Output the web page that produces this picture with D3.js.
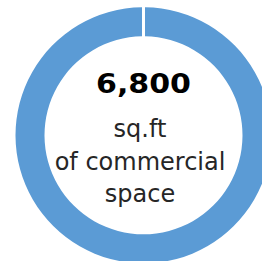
<!DOCTYPE html>
<html>
<head>
<meta charset="utf-8">
<script src="https://cdn.jsdelivr.net/npm/d3@7"></script>
<style>
html,body{margin:0;padding:0;background:#fff;overflow:hidden;}
svg{display:block;}
</style>
</head>
<body>
<script>
const categories = ["Commercial space"];
const values = [6800];
const headline = ["6,800"];
const captionLines = ["sq.ft", "of commercial", "space"];

const W = 262, H = 261;
const cx = 143.5, cy = 135.3, outerR = 128, innerR = 99;

const svg = d3.select("body").append("svg").attr("width", W).attr("height", H);
const g = svg.append("g").attr("transform", `translate(${cx},${cy})`);

const pie = d3.pie().sort(null).startAngle(0).endAngle(2 * Math.PI - 1e-6).padAngle(0.0185);
const arc = d3.arc().innerRadius(innerR).outerRadius(outerR);

g.selectAll("path.slice")
  .data(pie(values))
  .join("path")
  .attr("class", "slice")
  .attr("d", arc)
  .attr("fill", "#5B9BD5");

svg.append("text")
  .data(headline)
  .attr("x", cx)
  .attr("y", 93.3)
  .attr("text-anchor", "middle")
  .attr("font-family", "DejaVu Sans")
  .attr("font-weight", "bold")
  .attr("font-size", 26)
  .attr("textLength", 95)
  .attr("lengthAdjust", "spacingAndGlyphs")
  .attr("fill", "#000")
  .text(d => d);

const baselines = [137, 169.5, 202];
svg.selectAll("text.cap")
  .data(captionLines)
  .join("text")
  .attr("class", "cap")
  .attr("x", 140)
  .attr("y", (d, i) => baselines[i])
  .attr("text-anchor", "middle")
  .attr("font-family", "DejaVu Sans")
  .attr("font-size", 24)
  .attr("fill", "#262626")
  .text(d => d);
</script>
</body>
</html>
